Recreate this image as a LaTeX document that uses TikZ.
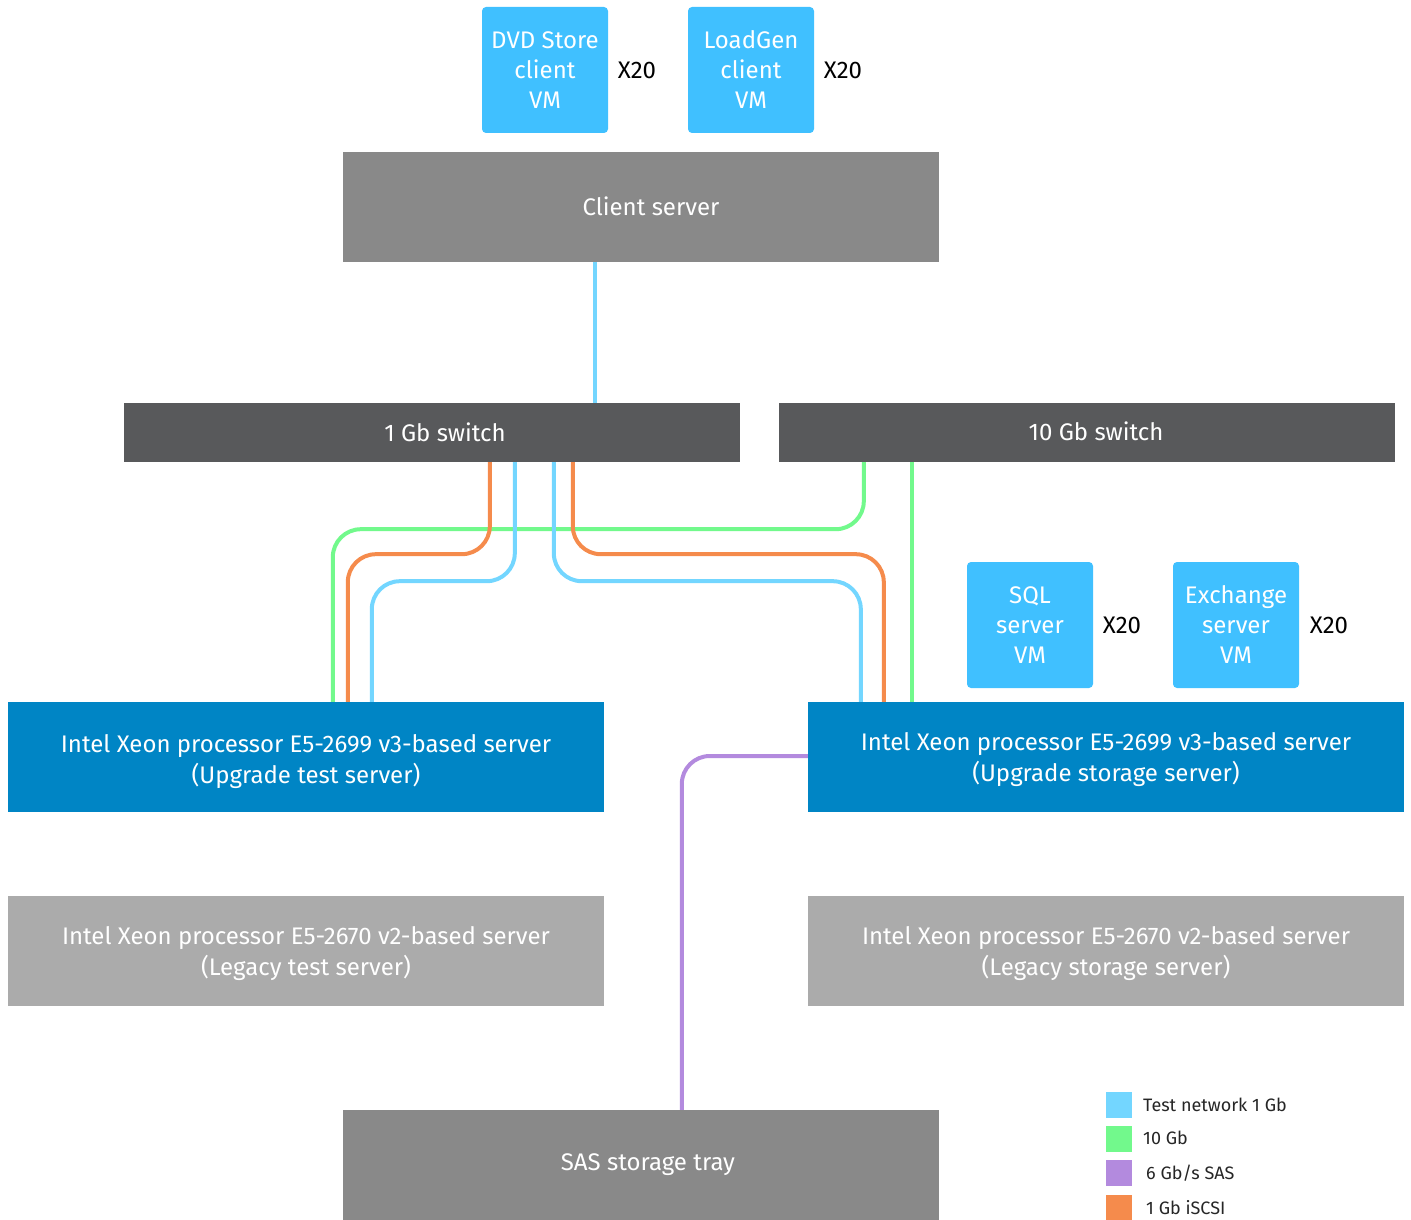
\documentclass[tikz,border=0pt]{standalone}
\usepackage{fontspec}
\setmainfont{Fira Sans}
\usetikzlibrary{calc}
\definecolor{vmblue}{HTML}{40C0FF}
\definecolor{srvblue}{HTML}{0085C5}
\definecolor{midgray}{HTML}{898989}
\definecolor{darkgray}{HTML}{58595B}
\definecolor{lightgray}{HTML}{ABABAB}
\definecolor{lblue}{HTML}{73D6FF}
\definecolor{lgreen}{HTML}{72F98C}
\definecolor{lpurple}{HTML}{B38ADE}
\definecolor{lorange}{HTML}{F58B4C}
\newcommand{\dnstrut}{\rule{0pt}{27pt}}
\tikzset{
  box/.style={draw=none, inner sep=0pt, text=white, align=center, font=\fontsize{24}{31}\selectfont},
  srvbox/.style={box, minimum width=596pt, minimum height=110pt},
  swbox/.style={box, fill=darkgray, minimum width=616pt, minimum height=59pt},
  vmbox/.style={box, fill=vmblue, rounded corners=4pt, minimum width=126pt, minimum height=126pt, font=\fontsize{24}{30}\selectfont},
  mult/.style={font=\fontsize{24}{28}\selectfont, text=black},
  wire/.style={line width=4pt, rounded corners=28pt},
  legsq/.style={minimum width=26pt, minimum height=26pt, inner sep=0pt},
  legtxt/.style={anchor=west, inner sep=0pt, font=\fontsize{18}{20}\selectfont, text=black!85}
}
\begin{document}
\begin{tikzpicture}[x=1pt,y=-1pt]
\useasboundingbox (0,0) rectangle (1411,1220);
% nodes
\node[vmbox] (dvd) at (545,70) {DVD Store\\client\\VM};
\node[mult] (x1) at (637,70) {X20};
\node[vmbox] (lg) at (751,70) {LoadGen\\client\\VM};
\node[mult] (x2) at (843,70) {X20};
\node[srvbox, fill=midgray] (client) at (641,207) {\hspace*{20pt}\raisebox{2pt}{Client server}};
\node[swbox] (sw1) at (432,432.5) {\hspace*{26pt}1 Gb switch};
\node[swbox] (sw10) at (1087,432.5) {\hspace*{18pt}\raisebox{2pt}{10 Gb switch}};
\node[vmbox] (sql) at (1030,625) {SQL\\server\\VM};
\node[mult] (x3) at (1122,625) {X20};
\node[vmbox] (exch) at (1236,625) {Exchange\\server\\VM};
\node[mult] (x4) at (1329,625) {X20};
\node[srvbox, fill=srvblue] (upt) at (306,757) {\dnstrut Intel Xeon processor E5-2699 v3-based server\\(Upgrade test server)};
\node[srvbox, fill=srvblue] (ups) at (1106,757) {\rule{0pt}{23pt}Intel Xeon processor E5-2699 v3-based server\\(Upgrade storage server)};
\node[srvbox, fill=lightgray] (lt) at (306,951) {\rule{0pt}{24pt}Intel Xeon processor E5-2670 v2-based server\\(Legacy test server)};
\node[srvbox, fill=lightgray] (ls) at (1106,951) {\rule{0pt}{24pt}Intel Xeon processor E5-2670 v2-based server\\(Legacy storage server)};
\node[srvbox, fill=midgray] (sas) at (641,1165) {\hspace*{14pt}\raisebox{3pt}{SAS storage tray}};
% wires
\draw[wire, lblue] ([xshift=252pt]client.south west) -- ([xshift=252pt]client.south west |- sw1.north);
\draw[wire, lgreen] ([xshift=85pt]sw10.south west) -- ++(0,67) -| ([xshift=325pt]upt.north west);
\draw[wire, lgreen] ([xshift=133pt]sw10.south west) -- ([xshift=104pt]ups.north west);
\draw[wire, lorange] ([xshift=366pt]sw1.south west) -- ++(0,92) -| ([xshift=340pt]upt.north west);
\draw[wire, lblue] ([xshift=391pt]sw1.south west) -- ++(0,119) -| ([xshift=364pt]upt.north west);
\draw[wire, lblue] ([xshift=430pt]sw1.south west) -- ++(0,119) -| ([xshift=53pt]ups.north west);
\draw[wire, lorange] ([xshift=449pt]sw1.south west) -- ++(0,92) -| ([xshift=76pt]ups.north west);
\draw[wire, lpurple] ([yshift=1pt]ups.west) -| ([xshift=339pt]sas.north west);
% legend
\node[legsq, fill=lblue] (k1) at (1119,1104.5) {};
\node[legsq, fill=lgreen] (k2) at (1119,1138.5) {};
\node[legsq, fill=lpurple] (k3) at (1119,1173) {};
\node[legsq, fill=lorange] (k4) at (1119,1207.5) {};
\node[legtxt] (t1) at (1143,1105) {Test network 1 Gb};
\node[legtxt] (t2) at (1143,1138) {10 Gb};
\node[legtxt] (t3) at (1146,1173) {6 Gb/s SAS};
\node[legtxt] (t4) at (1146,1208) {1 Gb iSCSI};
\end{tikzpicture}
\end{document}
